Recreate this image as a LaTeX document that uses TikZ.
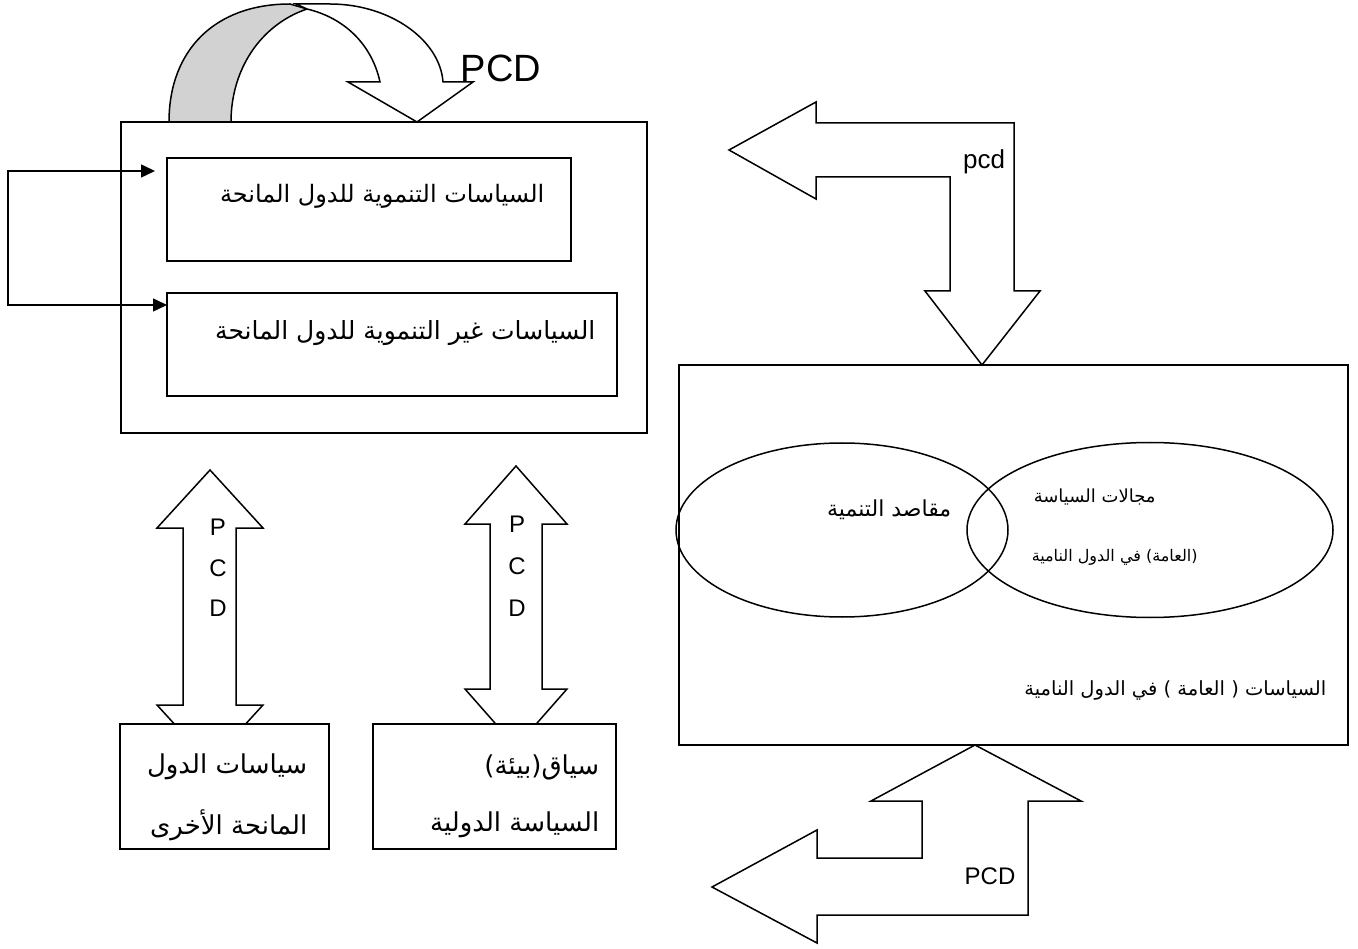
\documentclass[tikz,border=0pt]{standalone}
\usepackage{fontspec}
\setmainfont{Liberation Sans}
\newfontfamily\arabicfont[Script=Arabic]{DejaVu Sans}
\TeXXeTstate=1
\usetikzlibrary{shapes.geometric,arrows.meta,calc}
\begin{document}
\begin{tikzpicture}[x=1pt,y=-1pt, line width=1.5pt, line join=miter,
  box/.style={draw, fill=white, rectangle, inner sep=0pt, outer sep=0pt},
  oval/.style={draw, ellipse, inner sep=0pt, outer sep=0pt},
  blk/.style={draw, fill=white, line join=miter},
  ar/.style={font=\arabicfont\fontsize{#1}{#1}\selectfont, inner sep=0pt},
  lat/.style={font=\fontsize{24}{28}\selectfont, inner sep=0pt},
  fbarrow/.style={{Triangle[length=14pt,width=13pt]}-{Triangle[length=14pt,width=13pt]}}]
\useasboundingbox (0,0) rectangle (1358,949);
\fill[white] (0,0) rectangle (1358,949);

% vertical double block arrows (drawn before boxes)
\draw[blk] (210,470) -- (263,528) -- (236,528) -- (236,705) -- (263,705) -- (210,763)
  -- (157,705) -- (183,705) -- (183,528) -- (157,528) -- cycle;
\draw[blk] (516,466) -- (567,524) -- (542,524) -- (542,689) -- (567,689) -- (516,747)
  -- (465,689) -- (490,689) -- (490,524) -- (465,524) -- cycle;

% boxes
\node[box, minimum width=526pt, minimum height=311pt] (L) at (384,277.5) {};
\node[box, minimum width=404pt, minimum height=103pt] (B1) at (369,209.5) {};
\node[box, minimum width=450pt, minimum height=103pt] (B2) at (392,344.5) {};
\node[box, minimum width=669pt, minimum height=380pt] (R) at (1013.5,555) {};
\node[box, minimum width=209pt, minimum height=125pt] (S1) at (224.5,786.5) {};
\node[box, minimum width=243pt, minimum height=125pt] (S2) at (494.5,786.5) {};
\node[oval, minimum width=332pt, minimum height=174pt] (E1) at (842,530) {};
\node[oval, minimum width=366pt, minimum height=175pt] (E2) at (1150,530) {};

% curved arrow on top of the left box
\draw[fill=gray!35] (169,122) .. controls (169,50) and (215,4) .. (290,4) -- (307,9)
  .. controls (260,25) and (231,70) .. (231,122) -- cycle;
\draw[blk] (296,4) -- (330,4) .. controls (390,4) and (440,40) .. (443,82) -- (473,82)
  -- (417,122) -- (348,82) -- (380,82) .. controls (372,45) and (345,18) .. (307,9) -- cycle;
\node[font=\fontsize{38}{40}\selectfont, inner sep=0pt, anchor=west] (pcdtop) at (460,68) {PCD};

% top right bent arrow
\draw[blk] (729,150) -- (816,102) -- (816,123) -- (1014,123) -- (1014,291) -- (1040,291)
  -- (982,365) -- (925,291) -- (950,291) -- (950,177) -- (816,177) -- (816,199) -- cycle;
\node[font=\fontsize{26}{28}\selectfont, inner sep=0pt] (pcdr) at (984,162) {pcd};

% bottom right bent arrow
\draw[blk] (975,745) -- (1081,801) -- (1028,801) -- (1028,915) -- (817,915) -- (817,943)
  -- (712,887) -- (817,830) -- (817,858) -- (922,858) -- (922,801) -- (871,801) -- cycle;
\node[lat] (pcdb) at (990,876) {PCD};

% P C D letters
\node[lat] (p1) at (218,527) {P};
\node[lat] (c1) at (218,568) {C};
\node[lat] (d1) at (218,608) {D};
\node[lat] (p2) at (517,524) {P};
\node[lat] (c2) at (517,566) {C};
\node[lat] (d2) at (517,608) {D};

% feedback bracket
\coordinate (fa) at (8,171);
\coordinate (fbb) at (8,305);
\draw[fbarrow] ($(B1.west|-fa)+(-12,0)$) -- (fa) -- (fbb) -- (B2.west|-fbb);

% Arabic texts
\node[ar=24, anchor=east] (t1) at (545,196) {\beginR السياسات التنموية للدول المانحة\endR};
\node[ar=25, anchor=east] (t2) at (596,333) {\beginR السياسات غير التنموية للدول المانحة\endR};
\node[ar=22, anchor=east] (t3) at (952,510) {\beginR مقاصد التنمية\endR};
\node[ar=18, anchor=west] (t4) at (1033,497) {\beginR مجالات السياسة\endR};
\node[ar=16, anchor=west] (t5) at (1031,557) {\beginR (العامة) في الدول النامية\endR};
\node[ar=19.5, anchor=east] (t6) at (1327,690) {\beginR السياسات ( العامة ) في الدول النامية\endR};
\node[ar=26, anchor=east] (t7) at (308,767) {\beginR سياسات الدول\endR};
\node[ar=26, anchor=east] (t8) at (308,825) {\beginR المانحة الأخرى\endR};
\node[ar=26, anchor=east] (t9) at (600,767) {\beginR سياق(بيئة)\endR};
\node[ar=26, anchor=east] (t10) at (600,825) {\beginR السياسة الدولية\endR};
\end{tikzpicture}
\end{document}
